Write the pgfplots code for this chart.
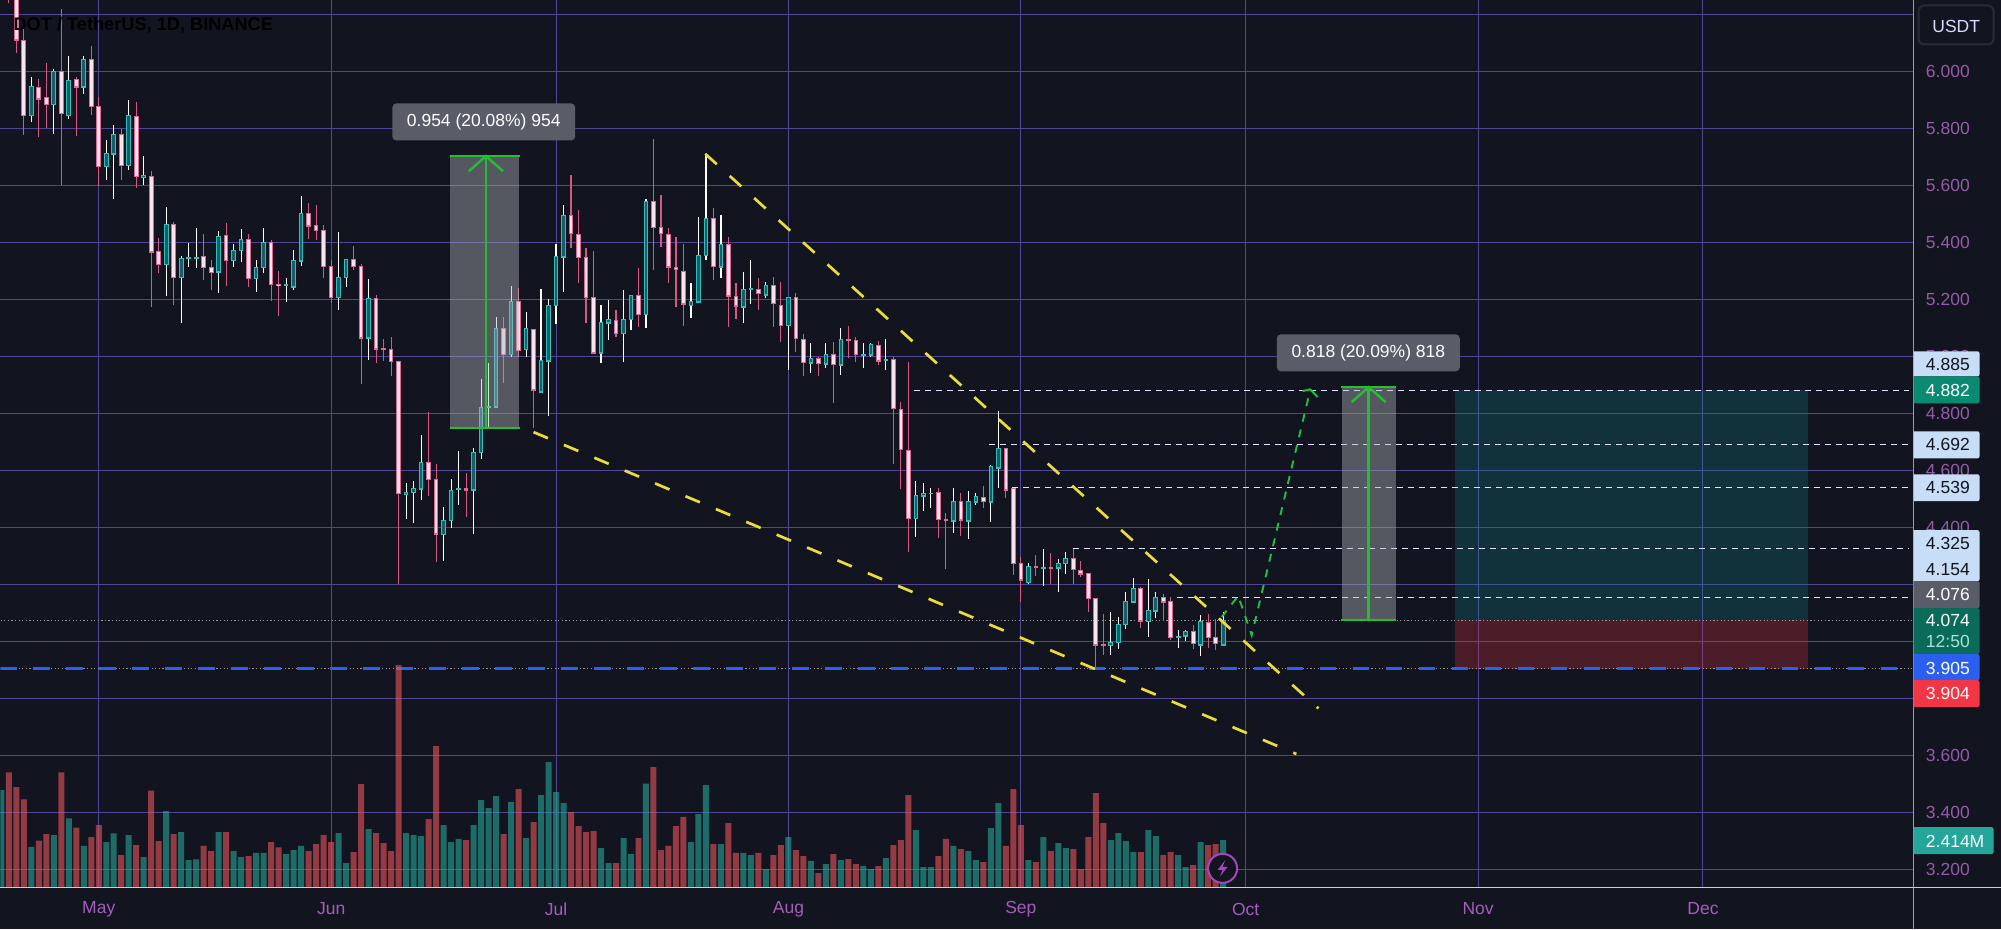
\documentclass[border=0pt]{standalone}
\usepackage{fontspec}
\setmainfont{Liberation Sans}
\usepackage{pgfplots}
\usepackage{pgfplotstable}
\pgfplotsset{compat=1.18}

\definecolor{bg}{HTML}{12151F}
\definecolor{gridc}{HTML}{4F4696}
\definecolor{axisc}{HTML}{9A9AB0}
\definecolor{tickc}{HTML}{955AA8}
\definecolor{timec}{HTML}{A65CBD}
\definecolor{upbody}{HTML}{14606A}
\definecolor{upedge}{HTML}{35BDBA}
\definecolor{dnbody}{HTML}{FBE2EC}
\definecolor{dnedge}{HTML}{DE6A92}
\definecolor{dnwick}{HTML}{D8587F}
\definecolor{volup}{HTML}{26A69A}
\definecolor{voldn}{HTML}{EA535C}
\definecolor{wedge}{HTML}{EBDC3C}
\definecolor{green1}{HTML}{23BE32}
\definecolor{route}{HTML}{1FBF4A}
\definecolor{blue1}{HTML}{2A5FF0}
\definecolor{boxgray}{HTML}{5A5D68}
\definecolor{measure}{HTML}{B2B5BE}
\definecolor{lblue}{HTML}{C8DDF6}
\definecolor{bolt}{HTML}{A545C5}
\definecolor{tpgreen}{HTML}{0A8A70}
\definecolor{tpzone}{HTML}{0F8A8C}
\definecolor{lastgreen}{HTML}{0B6B5A}
\definecolor{slred}{HTML}{F23645}
\definecolor{timerc}{HTML}{A5E3D5}

% d = days from 1 May, prices in USDT, v in millions
\pgfplotstableread{
d o h l c v
-13 6.300 6.450 6.300 6.400 4.98
-9 5.848 5.983 5.822 5.948 2.07
-6 5.886 6.009 5.781 6.000 2.67
-4 5.848 6.055 5.835 5.969 3.53
-2 5.948 6.056 5.921 6.043 2.11
1 5.669 5.761 5.620 5.713 2.31
2 5.713 5.812 5.553 5.780 2.76
4 5.671 5.902 5.656 5.846 2.67
6 5.632 5.705 5.601 5.636 1.54
9 5.325 5.525 5.214 5.465 3.90
11 5.278 5.352 5.117 5.345 2.82
12 5.345 5.400 5.316 5.347 1.39
13 5.347 5.452 5.312 5.349 1.42
16 5.298 5.442 5.222 5.422 2.82
18 5.338 5.395 5.316 5.373 1.85
19 5.373 5.448 5.332 5.410 1.54
21 5.275 5.338 5.227 5.314 1.75
22 5.314 5.451 5.294 5.401 1.75
25 5.250 5.275 5.192 5.252 1.69
26 5.245 5.376 5.234 5.338 1.90
27 5.337 5.564 5.318 5.502 2.11
32 5.208 5.439 5.164 5.278 2.77
33 5.278 5.341 5.244 5.341 1.23
36 5.067 5.271 4.989 5.204 2.98
41 4.516 4.557 4.429 4.524 2.77
42 4.524 4.562 4.415 4.538 2.67
43 4.537 4.725 4.497 4.630 2.62
46 4.376 4.473 4.281 4.426 3.18
47 4.426 4.571 4.399 4.530 2.31
48 4.534 4.667 4.479 4.536 2.47
50 4.532 4.678 4.379 4.665 3.18
51 4.665 4.922 4.641 4.822 4.47
52 4.824 4.979 4.753 4.826 4.06
53 4.824 5.140 4.820 5.100 4.67
55 5.008 5.248 5.000 5.195 4.37
57 5.025 5.156 4.997 5.098 2.52
59 4.877 5.236 4.871 4.986 4.73
60 4.986 5.201 4.793 5.180 6.42
61 5.180 5.395 5.114 5.351 4.88
62 5.351 5.532 5.226 5.495 4.31
67 5.014 5.181 4.976 5.119 2.00
68 5.119 5.199 5.058 5.131 1.23
70 5.082 5.234 4.980 5.131 2.52
71 5.131 5.216 5.093 5.215 1.69
73 5.148 5.553 5.101 5.544 5.32
79 5.180 5.259 5.134 5.193 2.31
80 5.193 5.489 5.189 5.355 3.75
81 5.355 5.713 5.339 5.485 5.24
83 5.316 5.497 5.277 5.394 2.21
86 5.175 5.296 5.119 5.236 1.75
87 5.236 5.339 5.185 5.238 1.64
89 5.217 5.261 5.206 5.250 0.92
92 5.110 5.210 4.953 5.208 2.57
95 4.979 5.049 4.941 4.994 1.34
97 4.975 5.047 4.959 5.008 1.18
99 4.972 5.099 4.935 5.061 1.39
102 5.006 5.047 4.959 5.008 1.08
103 5.006 5.049 5.000 5.043 0.92
105 4.989 5.062 4.953 4.991 1.49
109 4.432 4.563 4.368 4.512 2.93
110 4.512 4.555 4.459 4.520 1.03
111 4.520 4.538 4.467 4.521 1.03
114 4.424 4.538 4.380 4.491 2.11
116 4.424 4.529 4.358 4.491 1.85
117 4.491 4.520 4.479 4.508 1.39
119 4.491 4.620 4.421 4.614 3.03
120 4.609 4.808 4.540 4.677 4.31
124 4.208 4.274 4.203 4.264 1.39
126 4.258 4.324 4.194 4.260 2.57
128 4.258 4.291 4.174 4.274 2.26
129 4.274 4.314 4.236 4.293 2.00
135 3.987 4.104 3.952 3.998 2.41
136 3.998 4.086 3.975 4.061 2.77
137 4.061 4.174 4.045 4.139 2.36
138 4.139 4.224 4.135 4.186 1.80
140 4.071 4.221 4.016 4.107 2.93
141 4.107 4.172 4.084 4.154 2.62
144 4.016 4.039 3.977 4.018 1.64
145 4.020 4.042 4.001 4.034 1.03
147 3.989 4.092 3.949 4.069 2.31
150 3.989 4.104 3.983 4.074 2.414
}\upc

\pgfplotstableread{
d o h l c v
-12 6.400 6.450 6.240 6.300 5.89
-11 6.300 6.350 6.066 6.113 5.14
-10 6.111 6.150 5.779 5.848 4.50
-8 5.946 5.973 5.771 5.906 2.38
-7 5.910 6.030 5.801 5.886 2.72
-5 6.000 6.221 5.601 5.854 5.89
-3 5.972 5.983 5.775 5.948 3.06
-1 6.042 6.090 5.848 5.879 2.57
0 5.877 5.913 5.600 5.669 3.18
3 5.780 5.799 5.620 5.671 1.64
5 5.844 5.895 5.591 5.634 2.16
7 5.631 5.651 5.175 5.368 4.95
8 5.368 5.416 5.295 5.325 2.36
10 5.465 5.473 5.181 5.278 2.72
14 5.350 5.432 5.269 5.314 2.11
15 5.313 5.338 5.235 5.297 1.85
17 5.424 5.470 5.247 5.338 2.82
20 5.410 5.432 5.244 5.275 1.59
23 5.401 5.408 5.195 5.254 2.31
24 5.254 5.301 5.141 5.250 2.04
28 5.502 5.540 5.412 5.459 1.85
29 5.459 5.532 5.410 5.443 2.21
30 5.442 5.463 5.275 5.318 2.67
31 5.317 5.338 5.188 5.208 2.31
34 5.341 5.389 5.305 5.318 1.80
35 5.317 5.325 4.905 5.067 5.29
37 5.204 5.215 4.979 5.027 2.77
38 5.027 5.063 4.983 5.026 2.26
39 5.026 5.070 4.933 4.984 1.85
40 4.984 4.984 4.202 4.520 11.40
44 4.630 4.804 4.509 4.569 3.49
45 4.569 4.622 4.278 4.378 7.24
49 4.536 4.592 4.437 4.533 2.41
54 5.098 5.140 4.906 5.008 2.72
56 5.193 5.240 5.000 5.023 5.03
58 5.096 5.096 4.748 4.883 3.34
63 5.495 5.637 5.380 5.433 3.85
64 5.428 5.515 5.259 5.348 3.13
65 5.347 5.380 5.119 5.208 2.82
66 5.206 5.372 5.011 5.014 2.88
69 5.126 5.164 5.068 5.082 1.23
72 5.214 5.312 5.105 5.148 2.52
74 5.544 5.764 5.304 5.455 6.16
75 5.453 5.567 5.386 5.433 1.90
76 5.430 5.450 5.259 5.316 2.11
77 5.312 5.419 5.175 5.306 3.13
78 5.300 5.395 5.107 5.185 3.60
82 5.486 5.520 5.269 5.318 2.21
84 5.394 5.421 5.105 5.213 3.29
85 5.210 5.259 5.132 5.178 1.75
88 5.237 5.277 5.164 5.222 1.75
90 5.249 5.278 5.105 5.187 1.64
91 5.181 5.263 5.050 5.110 2.16
93 5.207 5.222 5.017 5.065 1.90
94 5.061 5.078 4.932 4.980 1.59
96 4.993 5.000 4.932 4.976 0.72
98 5.006 5.050 4.836 4.974 1.69
100 5.061 5.107 4.994 5.060 1.44
101 5.058 5.068 4.982 5.008 1.18
104 5.038 5.056 4.970 4.986 1.08
106 4.990 5.000 4.623 4.818 2.16
107 4.816 4.842 4.534 4.674 2.41
108 4.672 4.982 4.315 4.433 4.73
112 4.522 4.538 4.362 4.429 1.59
113 4.427 4.450 4.253 4.426 2.47
115 4.491 4.520 4.370 4.427 1.95
118 4.504 4.546 4.467 4.492 1.28
121 4.676 4.676 4.502 4.533 2.11
122 4.537 4.540 4.233 4.274 5.03
123 4.274 4.297 4.139 4.217 3.18
125 4.262 4.303 4.229 4.260 1.28
127 4.260 4.309 4.201 4.258 1.85
130 4.293 4.326 4.203 4.254 1.95
131 4.250 4.282 4.227 4.238 0.92
132 4.238 4.238 4.104 4.151 2.57
133 4.151 4.151 3.911 3.989 4.83
134 3.989 4.098 3.954 3.987 3.29
139 4.186 4.192 4.048 4.072 1.80
142 4.153 4.168 4.072 4.140 1.64
143 4.139 4.156 4.004 4.014 1.80
146 4.034 4.059 3.975 3.993 1.13
148 4.066 4.096 3.977 4.014 2.16
149 4.013 4.080 3.969 3.993 2.21
}\dnc

% half a pixel of price, for the body outline
\def\pad{0.00175}

\newcommand{\lbl}[3]{\node[anchor=west, inner sep=0pt, text=#3, font=\fontsize{8.75}{10}\selectfont] at (1926,#1) {#2};}
\newcommand{\pbox}[4][1980]{\fill[#4] (1914,#2) [rounded corners=1pt] -- (#1,#2) -- (#1,#3) [sharp corners] -- (1914,#3) -- cycle;}

\begin{document}
\begin{tikzpicture}
\begin{scope}[shift={(0pt,464.5pt)},x=0.5pt,y=-0.5pt]
  \fill[bg] (0,0) rectangle (2001,929);
\end{scope}

% price pane
\begin{axis}[
  at={(0pt,21pt)}, anchor=south west,
  width=957pt, height=443.5pt, scale only axis,
  xmin=-13.107, xmax=242.09, ymin=3.1379, ymax=6.2502,
  axis line style={draw=none}, major tick length=0pt,
  grid=major, grid style={gridc, line width=0.5pt},
  ytick={3.2,3.4,3.6,3.8,4.0,4.2,4.4,4.6,4.8,5.0,5.2,5.4,5.6,5.8,6.0,6.2},
  yticklabels={3.200,3.400,3.600,{},{},{},4.400,4.600,4.800,5.000,5.200,5.400,5.600,5.800,6.000,{}},
  xtick={0,31,61,92,123,153,184,214},
  xticklabels={May,Jun,Jul,Aug,Sep,Oct,Nov,Dec},
  yticklabel pos=right,
  y tick label style={anchor=west, inner sep=0pt, xshift=6pt, text=tickc, font=\fontsize{8.75}{10}\selectfont},
  x tick label style={anchor=center, inner sep=0pt, yshift=-11pt, text=timec, font=\fontsize{8.75}{10}\selectfont},
]
% long position zones
\addplot[draw=none, fill=tpzone, fill opacity=0.25, forget plot] coordinates {(180.9,4.882)(228,4.882)(228,4.074)(180.9,4.074)} --cycle;
\addplot[draw=none, fill=slred, fill opacity=0.25, forget plot] coordinates {(180.9,4.074)(228,4.074)(228,3.905)(180.9,3.905)} --cycle;

% level lines
\addplot[white!88!blue, line width=0.6pt, dash pattern=on 3pt off 2.5pt, forget plot] coordinates {(108.8,4.882)(241.5,4.882)};
\addplot[white!88!blue, line width=0.6pt, dash pattern=on 3pt off 2.5pt, forget plot] coordinates {(118.8,4.692)(241.5,4.692)};
\addplot[white!88!blue, line width=0.6pt, dash pattern=on 3pt off 2.5pt, forget plot] coordinates {(121.8,4.541)(241.5,4.541)};
\addplot[white!88!blue, line width=0.6pt, dash pattern=on 3pt off 2.5pt, forget plot] coordinates {(129.9,4.325)(241.5,4.325)};
\addplot[white!88!blue, line width=0.6pt, dash pattern=on 3pt off 2.5pt, forget plot] coordinates {(143.8,4.154)(241.5,4.154)};
\addplot[white!60!black, line width=0.5pt, dash pattern=on 0.6pt off 1.2pt, forget plot] coordinates {(-13.1,4.074)(242.09,4.074)};
\addplot[white!60!black, line width=0.5pt, dash pattern=on 0.6pt off 1.2pt, forget plot] coordinates {(-13.1,3.905)(242.09,3.905)};
\addplot[blue1, line width=1.5pt, dash pattern=on 8.25pt off 8.25pt, forget plot] coordinates {(-13.107,3.905)(242.09,3.905)};

% wicks
\addplot[draw=none, mark=none, forget plot,
  error bars/.cd, y dir=both, y explicit, error mark=none,
  error bar style={draw=white, line width=0.55pt, solid}]
  table[x=d, y=o, y error plus expr=\thisrow{h}-\thisrow{o}, y error minus expr=\thisrow{o}-\thisrow{l}] {\upc};
\addplot[draw=none, mark=none, forget plot,
  error bars/.cd, y dir=both, y explicit, error mark=none,
  error bar style={draw=dnwick, line width=0.55pt, solid}]
  table[x=d, y=o, y error plus expr=\thisrow{h}-\thisrow{o}, y error minus expr=\thisrow{o}-\thisrow{l}] {\dnc};
% bodies, outline then fill
\addplot[draw=none, mark=none, forget plot,
  error bars/.cd, y dir=both, y explicit, error mark=none,
  error bar style={draw=upedge, line width=2.3pt, solid}]
  table[x=d, y=o, y error plus expr=\thisrow{c}-\thisrow{o}+\pad, y error minus expr=\pad] {\upc};
\addplot[draw=none, mark=none, forget plot,
  error bars/.cd, y dir=plus, y explicit, error mark=none,
  error bar style={draw=upbody, line width=1.3pt, solid}]
  table[x=d, y expr=\thisrow{o}+\pad, y error plus expr={max(\thisrow{c}-\thisrow{o}-2*\pad,0)}] {\upc};
\addplot[draw=none, mark=none, forget plot,
  error bars/.cd, y dir=both, y explicit, error mark=none,
  error bar style={draw=dnedge, line width=2.3pt, solid}]
  table[x=d, y=c, y error plus expr=\thisrow{o}-\thisrow{c}+\pad, y error minus expr=\pad] {\dnc};
\addplot[draw=none, mark=none, forget plot,
  error bars/.cd, y dir=plus, y explicit, error mark=none,
  error bar style={draw=dnbody, line width=1.3pt, solid}]
  table[x=d, y expr=\thisrow{c}+\pad, y error plus expr={max(\thisrow{o}-\thisrow{c}-2*\pad,0)}] {\dnc};

% wedge
\addplot[wedge, line width=1.35pt, dash pattern=on 7.8pt off 8.7pt, forget plot] coordinates {(80.9,5.712)(162.7,3.765)};
\addplot[wedge, line width=1.35pt, dash pattern=on 7.8pt off 8.7pt, forget plot] coordinates {(58.0,4.735)(159.76,3.605)};

% measured moves
\addplot[draw=none, fill=measure, fill opacity=0.42, forget plot] coordinates {(46.9,4.750)(56.1,4.750)(56.1,5.704)(46.9,5.704)} --cycle;
\addplot[draw=none, fill=measure, fill opacity=0.42, forget plot] coordinates {(165.8,4.075)(173.0,4.075)(173.0,4.893)(165.8,4.893)} --cycle;
\addplot[green1, line width=1.25pt, forget plot] coordinates {(46.8,5.704)(56.2,5.704)};
\addplot[green1, line width=1.25pt, forget plot] coordinates {(46.8,4.750)(56.2,4.750)};
\addplot[green1, line width=1.35pt, forget plot] coordinates {(51.65,4.750)(51.65,5.704)};
\addplot[green1, line width=1.2pt, forget plot] coordinates {(49.38,5.651)(51.65,5.704)(53.92,5.651)};
\addplot[green1, line width=1.25pt, forget plot] coordinates {(165.7,4.893)(173.1,4.893)};
\addplot[green1, line width=1.25pt, forget plot] coordinates {(165.7,4.075)(173.1,4.075)};
\addplot[green1, line width=1.35pt, forget plot] coordinates {(169.4,4.075)(169.4,4.893)};
\addplot[green1, line width=1.2pt, forget plot] coordinates {(167.13,4.840)(169.4,4.893)(171.67,4.840)};

% projected path
\addplot[route, line width=0.95pt, dash pattern=on 4pt off 4pt, forget plot] coordinates {(149.8,4.086)(152.0,4.160)(153.8,4.022)(161.6,4.882)};
\addplot[route, line width=0.95pt, forget plot] coordinates {(160.6,4.879)(161.6,4.885)(162.6,4.858)};
\end{axis}

% volume pane
\begin{axis}[
  at={(0pt,21pt)}, anchor=south west,
  width=957pt, height=443.5pt, scale only axis, hide axis,
  xmin=-13.107, xmax=242.09, ymin=0, ymax=45.56,
]
\addplot[ybar, bar shift=0pt, bar width=3pt, draw=none, fill=volup, fill opacity=0.6, forget plot] table[x=d, y=v] {\upc};
\addplot[ybar, bar shift=0pt, bar width=3pt, draw=none, fill=voldn, fill opacity=0.6, forget plot] table[x=d, y=v] {\dnc};
\end{axis}

\begin{scope}[shift={(0pt,464.5pt)},x=0.5pt,y=-0.5pt]
  % pane borders
  \draw[axisc, line width=0.5pt] (1914,0) -- (1914,929);
  \draw[white!78!blue, line width=0.5pt] (0,887) -- (2001,887);
  % title
  \node[anchor=west, inner sep=0pt, text=black, font=\fontsize{9.1}{10}\selectfont\bfseries] at (12.7,25) {DOT / TetherUS, 1D, BINANCE};
  % measure labels
  \fill[boxgray, rounded corners=2pt] (392,103) rectangle (575,140);
  \node[text=white, inner sep=0pt, font=\fontsize{8.75}{10}\selectfont] at (483.5,121.5) {0.954 (20.08\%) 954};
  \fill[boxgray, rounded corners=2pt] (1277,334) rectangle (1460,371);
  \node[text=white, inner sep=0pt, font=\fontsize{8.75}{10}\selectfont] at (1368.5,352.5) {0.818 (20.09\%) 818};
  % currency button
  \draw[bg!90!white, fill=bg, line width=1pt, rounded corners=3pt] (1919,5) rectangle (1994,44);
  \node[text=white!85!blue, inner sep=0pt, font=\fontsize{8.75}{10}\selectfont] at (1956.7,25.7) {USDT};
  % price scale labels
  \pbox{351}{376}{lblue} \lbl{364}{4.885}{bg}
  \pbox{376}{403}{tpgreen} \lbl{390}{4.882}{white}
  \pbox{431}{458}{lblue} \lbl{444.5}{4.692}{bg}
  \pbox{474}{501}{lblue} \lbl{487.5}{4.539}{bg}
  \pbox{530}{581}{lblue} \lbl{543.3}{4.325}{bg} \lbl{569.3}{4.154}{bg}
  \pbox{581}{608}{boxgray} \lbl{594.5}{4.076}{white}
  \pbox{608}{654}{lastgreen} \lbl{620.7}{4.074}{white} \lbl{641.7}{12:50}{timerc}
  \pbox{654}{680}{blue1} \lbl{668}{3.905}{white}
  \pbox{680}{707}{slred} \lbl{693}{3.904}{white}
  \pbox[1994]{827}{854}{volup} \lbl{841}{2.414M}{white}
  % bolt
  \filldraw[bolt, fill=bg, line width=1pt] (1222.7,868.3) circle (14.5);
  \fill[bolt] (1225.2,860.3) -- (1217.7,869.8) -- (1222.7,869.8) -- (1220.2,876.3) -- (1227.7,866.8) -- (1222.7,866.8) -- cycle;
\end{scope}
\end{tikzpicture}
\end{document}
